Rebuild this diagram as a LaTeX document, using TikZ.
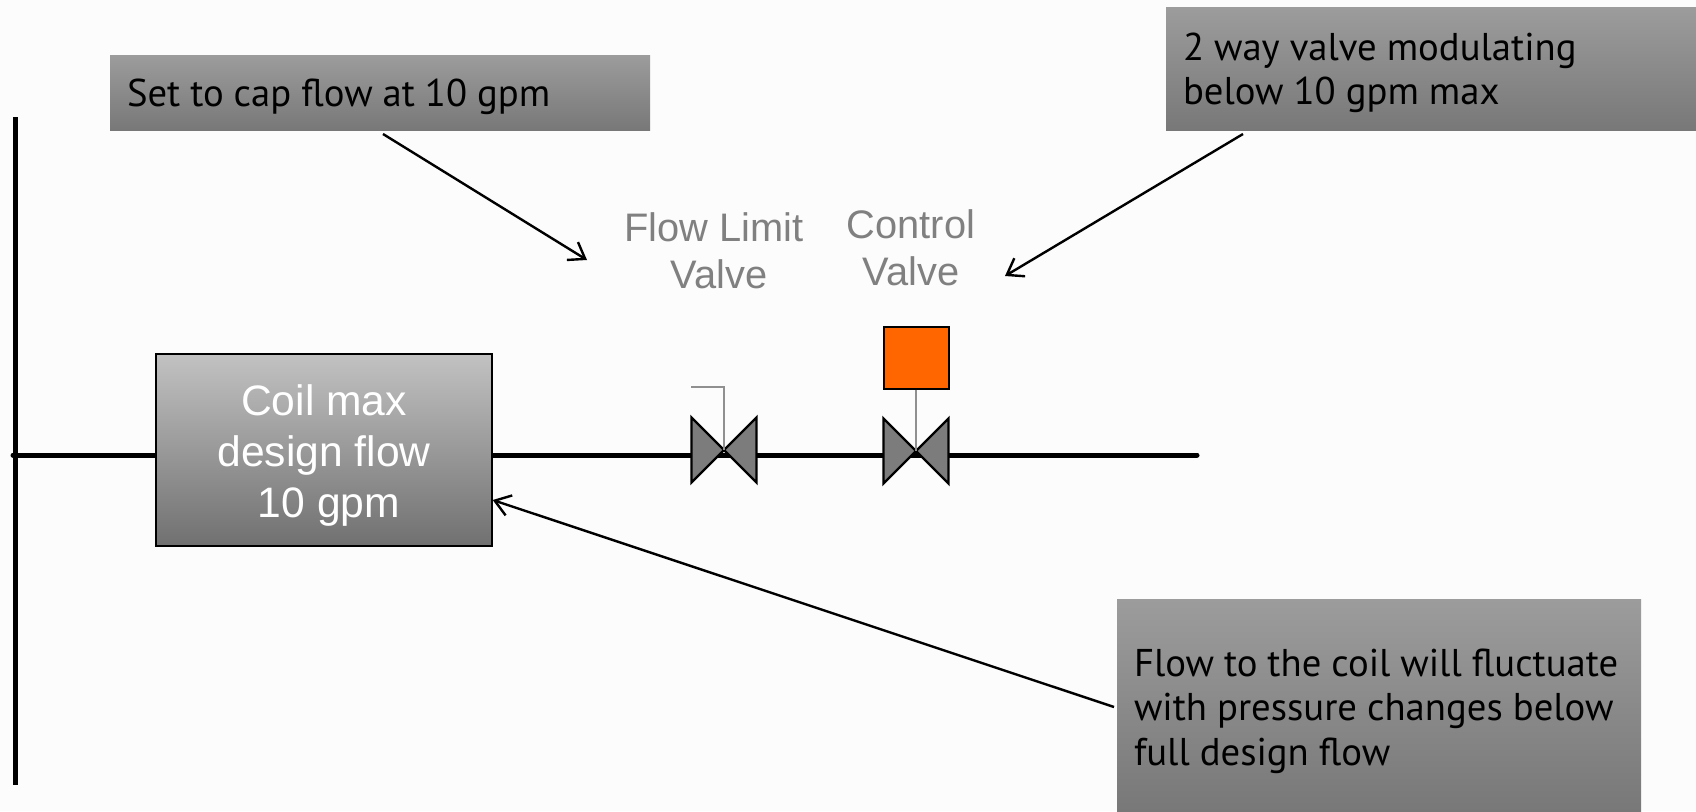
\documentclass[tikz,border=0pt]{standalone}
\usepackage{fontspec}
\setmainfont{Liberation Sans}
\newfontfamily\notefont{PT Sans}
\usetikzlibrary{arrows.meta}

\definecolor{pagegray}{HTML}{FCFCFC}
\definecolor{notetop}{HTML}{9C9C9C}
\definecolor{notebottom}{HTML}{787878}
\definecolor{labelgray}{HTML}{808080}
\definecolor{valvegray}{HTML}{7C7C7C}
\definecolor{stemgray}{HTML}{909090}
\definecolor{actorange}{HTML}{FF6600}

\newcommand{\dropline}[1]{\rule{0pt}{#1}}
\newcommand{\notesetup}{\notefont\fontsize{38.7}{44.7}\selectfont\setlength{\spaceskip}{10pt}}

\tikzset{
  note/.style={rectangle, top color=notetop, bottom color=notebottom, anchor=north west, outer sep=0pt,
    inner xsep=17pt, inner ysep=0pt, align=flush left, text=black, font=\notesetup},
  label/.style={align=flush center, text=labelgray, inner sep=0pt, font=\fontsize{39.8}{47}\selectfont},
  pipe/.style={draw=black, line width=5pt},
  callout/.style={draw=black, line width=2.4pt, -{Straight Barb[length=15pt, width=21pt, line width=2.4pt]}},
  valvebody/.style={draw=black, fill=valvegray, line width=2.4pt, line join=miter},
  stem/.style={draw=stemgray, line width=1.5pt},
}

\begin{document}
\begin{tikzpicture}[x=1pt, y=-1pt]

\useasboundingbox (0,0) rectangle (1696,811);
\fill[pagegray] (0,0) rectangle (1696,811);

% header pipe and branch
\coordinate (headertop) at (15,117);
\coordinate (headerbottom) at (15,785);
\coordinate (branchstart) at (13,455);
\coordinate (branchend) at (1197,455);
\draw [pipe] (headertop) -- (headerbottom);
\draw [pipe, line cap=round] (branchstart) -- (branchend);

\node (coil) [rectangle, draw=black, line width=1.4pt, top color=black!24, bottom color=black!56, minimum width=336pt, minimum height=192pt,
  align=flush center, text=white, inner sep=0pt, font=\fontsize{42.6}{51}\selectfont] at (324,450) {\dropline{42pt}Coil max\\design flow\\\hspace*{10pt}10 gpm};

% valves
\coordinate (limitvalve) at (724,450);
\coordinate (controlvalve) at (916,451);
\coordinate (limitstem) at (724,387);
\coordinate (limitflag) at (691,387);
\node (actuator) [rectangle, draw=black, line width=2pt, fill=actorange, minimum width=65pt, minimum height=62pt, inner sep=0pt] at (916,357.5) {};

\foreach \v in {limitvalve, controlvalve} {
  \draw [valvebody] ([shift={(-32.5,-32.5)}]\v) -- ([shift={(32.5,32.5)}]\v) -- ([shift={(32.5,-32.5)}]\v) -- ([shift={(-32.5,32.5)}]\v) -- cycle;
}
\draw [stem] (limitflag) -- (limitstem) -- (limitvalve);
\draw [stem] (actuator.south) -- (controlvalve);

\node (limitlabel) [label, text width=200pt] at (714,251) {Flow Limit\\\hspace*{10pt}Valve};
\node (controllabel) [label, text width=200pt] at (911,248) {Control\\Valve};

% notes
\node (capnote) [note, minimum width=540pt, minimum height=75pt, text width=506pt] at (110,55) {\dropline{36pt}Set to cap flow at 10 gpm};
\node (modnote) [note, minimum width=530pt, minimum height=122.5pt, text width=496pt] at (1166,7.5) {\dropline{36pt}2 way valve modulating\\below 10 gpm max};
\node (pressnote) [note, minimum width=524pt, minimum height=212pt, text width=490pt] at (1117,599) {\dropline{40pt}Flow to the coil will fluctuate\\with pressure changes below\\full design flow};

\coordinate (capstart) at (383,134);
\coordinate (capend) at (587,260);
\coordinate (modstart) at (1243,134);
\coordinate (modend) at (1005,276);
\coordinate (pressstart) at (1114,707);

\draw [callout] (capstart) -- (capend);
\draw [callout] (modstart) -- (modend);
\draw [callout] (pressstart) -- ([yshift=-50pt]coil.east);

\end{tikzpicture}
\end{document}
